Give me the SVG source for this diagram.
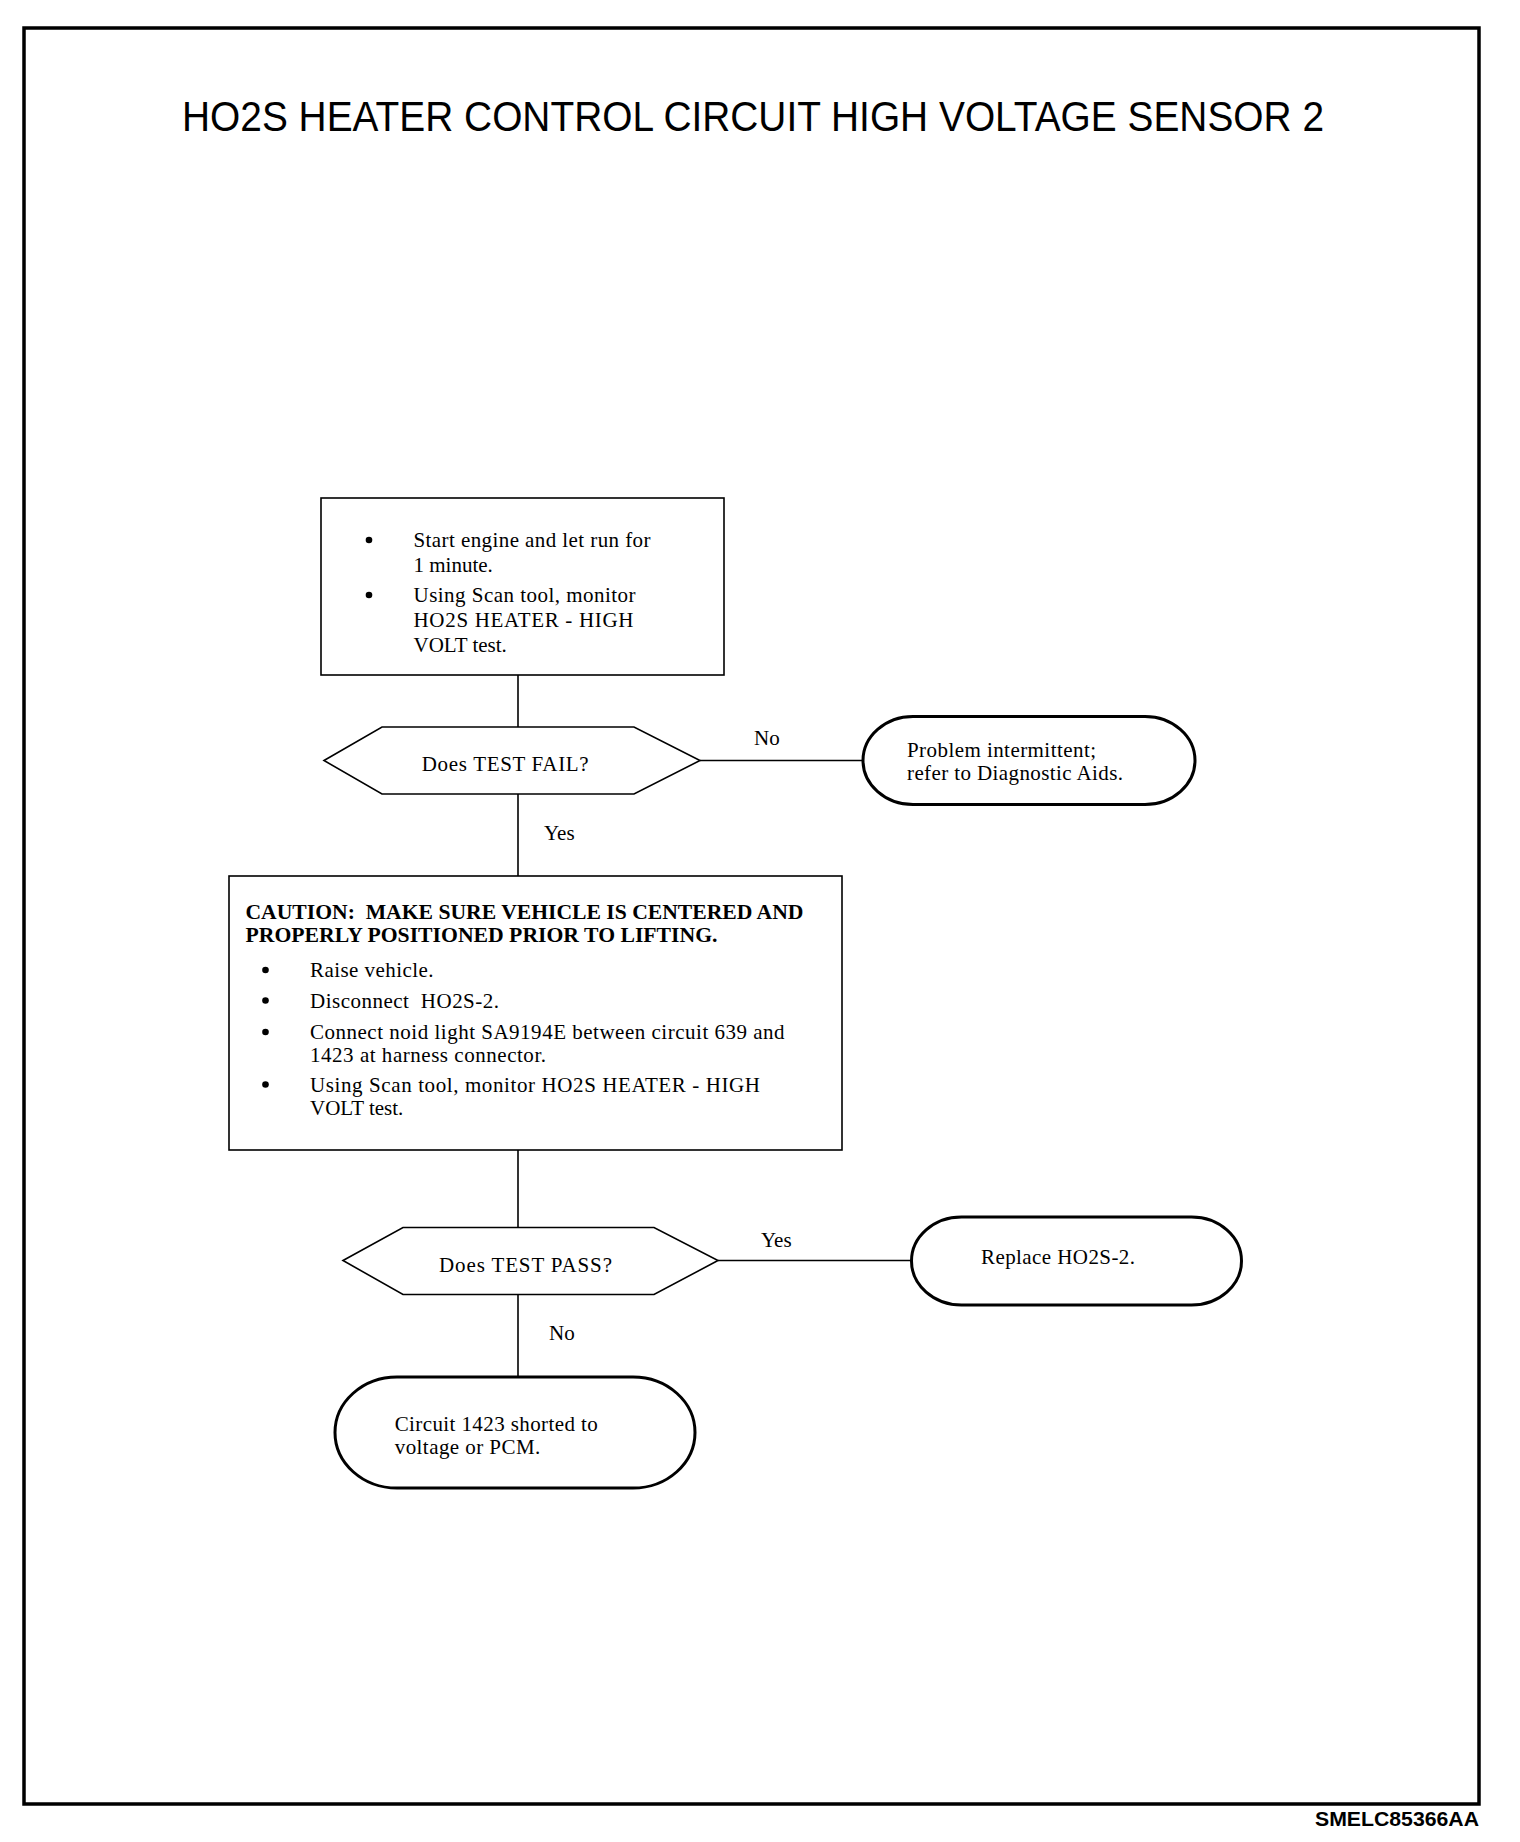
<svg xmlns="http://www.w3.org/2000/svg" width="1520" height="1842" viewBox="0 0 1520 1842">
<style>
.t{font-family:"Liberation Serif","Times New Roman",serif;font-size:21px;fill:#000}
.b{font-weight:bold}
.box{fill:#fff;stroke:#000;stroke-width:1.6}
.term{fill:#fff;stroke:#000;stroke-width:3}
.ln{stroke:#000;stroke-width:1.6;fill:none}
</style>
<rect x="0" y="0" width="1520" height="1842" fill="#fff"/>
<rect id="frame" x="24" y="28" width="1455" height="1776" fill="none" stroke="#000" stroke-width="3.5"/>
<text id="title" x="753" y="131" text-anchor="middle" font-family="'Liberation Sans',Arial,sans-serif" font-size="43" textLength="1142" lengthAdjust="spacingAndGlyphs">HO2S HEATER CONTROL CIRCUIT HIGH VOLTAGE SENSOR 2</text>
<text id="code" x="1479" y="1826" text-anchor="end" font-family="'Liberation Sans',Arial,sans-serif" font-size="20" font-weight="bold" textLength="164" lengthAdjust="spacingAndGlyphs">SMELC85366AA</text>

<g id="connectors">
<line class="ln" x1="518" y1="675" x2="518" y2="727"/>
<line class="ln" x1="518" y1="794" x2="518" y2="876"/>
<line class="ln" x1="700" y1="760.5" x2="863" y2="760.5"/>
<line class="ln" x1="518" y1="1150" x2="518" y2="1227.5"/>
<line class="ln" x1="518" y1="1294.5" x2="518" y2="1377"/>
<line class="ln" x1="718" y1="1260.5" x2="911.5" y2="1260.5"/>
<text class="t" x="754" y="745">No</text>
<text class="t" x="544" y="840">Yes</text>
<text class="t" x="761" y="1247">Yes</text>
<text class="t" x="549" y="1340">No</text>
</g>

<g id="step1">
<rect class="box" x="321" y="498" width="403" height="177"/>
<circle cx="369" cy="540" r="3.3"/>
<circle cx="369" cy="595" r="3.3"/>
<text class="t" x="413.5" y="547" textLength="237">Start engine and let run for</text>
<text class="t" x="413.5" y="572">1 minute.</text>
<text class="t" x="413.5" y="602" textLength="222">Using Scan tool, monitor</text>
<text class="t" x="413.5" y="627" textLength="220">HO2S HEATER - HIGH</text>
<text class="t" x="413.5" y="652">VOLT test.</text>
</g>

<g id="decision1">
<polygon class="box" points="324,760.5 382,727 634,727 700,760.5 634,794 382,794"/>
<text class="t" x="421.7" y="771" textLength="167">Does TEST FAIL?</text>
</g>

<g id="intermittent">
<rect class="term" x="863" y="716.5" width="332" height="88" rx="50" ry="44"/>
<text class="t" x="907" y="756.5" textLength="189">Problem intermittent;</text>
<text class="t" x="907" y="780" textLength="216">refer to Diagnostic Aids.</text>
</g>

<g id="step2">
<rect class="box" x="229" y="876" width="613" height="274"/>
<text class="t b" x="245.5" y="919" textLength="558" lengthAdjust="spacingAndGlyphs" xml:space="preserve">CAUTION:  MAKE SURE VEHICLE IS CENTERED AND</text>
<text class="t b" x="245.5" y="941.5" textLength="472" lengthAdjust="spacingAndGlyphs">PROPERLY POSITIONED PRIOR TO LIFTING.</text>
<circle cx="265.5" cy="970" r="3.3"/>
<circle cx="265.5" cy="1000.5" r="3.3"/>
<circle cx="265.5" cy="1032" r="3.3"/>
<circle cx="265.5" cy="1084.5" r="3.3"/>
<text class="t" x="310" y="977" textLength="123.5">Raise vehicle.</text>
<text class="t" x="310" y="1007.5" textLength="189" xml:space="preserve">Disconnect  HO2S-2.</text>
<text class="t" x="310" y="1039" textLength="474.6">Connect noid light SA9194E between circuit 639 and</text>
<text class="t" x="310" y="1061.5" textLength="236">1423 at harness connector.</text>
<text class="t" x="310" y="1091.5" textLength="450">Using Scan tool, monitor HO2S HEATER - HIGH</text>
<text class="t" x="310" y="1114.5">VOLT test.</text>
</g>

<g id="decision2">
<polygon class="box" points="343,1260.5 403,1227.5 654,1227.5 718,1260.5 654,1294.5 403,1294.5"/>
<text class="t" x="439" y="1272" textLength="173">Does TEST PASS?</text>
</g>

<g id="replace">
<rect class="term" x="911.5" y="1217" width="330" height="88" rx="50" ry="44"/>
<text class="t" x="981" y="1264" textLength="154">Replace HO2S-2.</text>
</g>

<g id="shorted">
<rect class="term" x="335" y="1377" width="360" height="111" rx="62" ry="55.5"/>
<text class="t" x="394.7" y="1431" textLength="203">Circuit 1423 shorted to</text>
<text class="t" x="394.7" y="1454" textLength="145.6">voltage or PCM.</text>
</g>
</svg>
